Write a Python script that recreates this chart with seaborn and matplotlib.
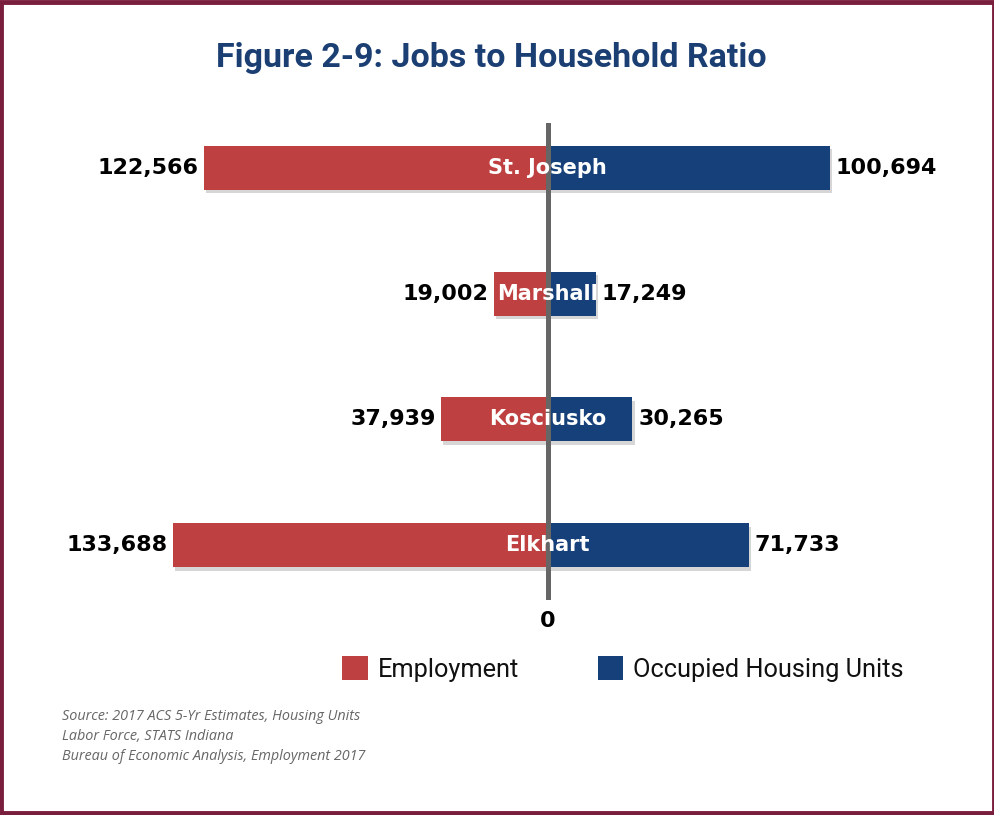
import matplotlib
matplotlib.use("Agg")
import matplotlib.pyplot as plt
import matplotlib.patheffects as pe
from matplotlib.patches import Rectangle, Patch
import pandas as pd
import seaborn as sns

# Data
counties = ["St. Joseph", "Marshall", "Kosciusko", "Elkhart"]
employment = [122566, 19002, 37939, 133688]
housing_units = [100694, 17249, 30265, 71733]

RED = "#BF4040"
BLUE = "#15407A"
TITLE_BLUE = "#1B3F73"
FRAME = "#7A1E3E"

sns.set_theme(style="white")
plt.rcParams["font.family"] = ["DejaVu Sans"]

W, H = 995, 815
fig = plt.figure(figsize=(W / 100, H / 100), dpi=100)
fig.patch.set_facecolor("white")

# axes placement in pixels: left, top, right, bottom
L, T, R, B = 60, 123, 940, 600
ax = fig.add_axes([L / W, 1 - B / H, (R - L) / W, (B - T) / H])

df = pd.DataFrame({
    "county": counties,
    "employment": [-v for v in employment],
    "housing": housing_units,
})

shadow = [pe.SimplePatchShadow(offset=(1.5, -2.5), shadow_rgbFace="#000000", alpha=0.16), pe.Normal()]

sns.barplot(data=df, y="county", x="employment", order=counties, color=RED,
            saturation=1, width=0.35, orient="h", ax=ax, edgecolor="none")
sns.barplot(data=df, y="county", x="housing", order=counties, color=BLUE,
            saturation=1, width=0.35, orient="h", ax=ax, edgecolor="none")
for p in ax.patches:
    p.set_path_effects(shadow)

ax.set_xlim(-174000, 140000)
ax.set_ylim(3.437, -0.358)
ax.axvline(0, color="#666666", lw=3.6, zorder=5)

ax.set_xlabel("")
ax.set_ylabel("")
ax.set_xticks([])
ax.set_yticks([])
for s in ax.spines.values():
    s.set_visible(False)
ax.set_facecolor("none")

gap = 2000
for i, (c, e, h) in enumerate(zip(counties, employment, housing_units)):
    ax.text(-e - gap, i, f"{e:,}", ha="right", va="center", fontsize=16,
            fontweight="bold", color="black", zorder=6)
    ax.text(h + gap, i, f"{h:,}", ha="left", va="center", fontsize=16,
            fontweight="bold", color="black", zorder=6)
    ax.text(0, i, c, ha="center", va="center", fontsize=15, fontweight="bold",
            color="white", zorder=7)

fig.text(548 / W, 1 - 621 / H, "0", ha="center", va="center", fontsize=16,
         fontweight="bold", color="black")

# Title
fig.text(491 / W, 1 - 58 / H, "Figure 2-9: Jobs to Household Ratio", ha="center",
         va="center", fontsize=24.5, fontweight="bold", color=TITLE_BLUE,
         family=["Roboto", "DejaVu Sans"])

# Legend
handles = [Patch(facecolor=RED, edgecolor="none", label="Employment"),
           Patch(facecolor=BLUE, edgecolor="none", label="Occupied Housing Units")]
leg = fig.legend(handles=handles, loc="center", bbox_to_anchor=(623 / W, 1 - 669 / H),
                 ncol=2, frameon=False, handlelength=1.0, handleheight=1.1,
                 handletextpad=0.4, columnspacing=3.1, labelcolor="#111111",
                 prop={"family": ["Roboto", "DejaVu Sans"], "size": 18.3})

# Source note
src = ["Source: 2017 ACS 5-Yr Estimates, Housing Units",
       "Labor Force, STATS Indiana",
       "Bureau of Economic Analysis, Employment 2017"]
for k, line in enumerate(src):
    fig.text(62 / W, 1 - (717 + 19.5 * k) / H, line, ha="left", va="center",
             fontsize=10.4, style="italic", color="#666666",
             family=["Open Sans", "DejaVu Sans"])

# Frame around the figure
fig.patches.append(Rectangle((0.0015, 0.002), 0.997, 0.996, transform=fig.transFigure,
                             fill=False, edgecolor=FRAME, lw=3.5))

fig.savefig("out.png", dpi=100, facecolor="white")
